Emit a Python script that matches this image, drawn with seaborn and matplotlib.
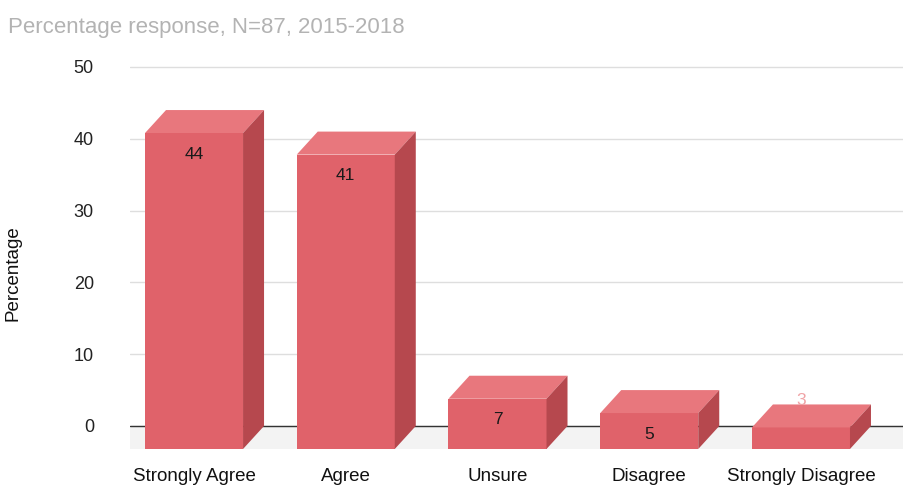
import matplotlib
matplotlib.use("Agg")
import matplotlib.pyplot as plt
from matplotlib.patches import Polygon
import seaborn as sns
import pandas as pd

categories = ["Strongly Agree", "Agree", "Unsure", "Disagree", "Strongly Disagree"]
values = [44, 41, 7, 5, 3]
yticks = [0, 10, 20, 30, 40, 50]
title = "Percentage response, N=87, 2015-2018"

sns.set_theme(style="white")
plt.rcParams['font.family'] = ['Liberation Sans', 'DejaVu Sans']

front_c = "#e0626a"
top_c = "#e8777d"
side_c = "#b6484e"

W, H = 904, 488
fig = plt.figure(figsize=(W / 100, H / 100), dpi=100)
ax_left, ax_right, ax_bot, ax_top = 130, 904, 455, 60
ax = fig.add_axes([ax_left / W, (H - ax_bot) / H, (ax_right - ax_left) / W, (ax_bot - ax_top) / H])

df = pd.DataFrame({"Response": categories, "Percentage": values})
sns.barplot(data=df, x="Response", y="Percentage", color=front_c, saturation=1,
            width=0.646, ax=ax, zorder=3, linewidth=0)

xlim = (-0.422, 4.679)
ylim = (-4.04, 50.97)
ax.set_xlim(*xlim)
ax.set_ylim(*ylim)

pxx = (ax_right - ax_left) / (xlim[1] - xlim[0])
pxy = (ax_bot - ax_top) / (ylim[1] - ylim[0])
dxd = 21 / pxx
dyd = 23 / pxy

# floor shading
ax.add_patch(Polygon([(xlim[0], -dyd), (xlim[1], -dyd), (xlim[1], 0), (xlim[0], 0)],
                     closed=True, facecolor="#f3f3f3", edgecolor="none", zorder=0.5))

for p in list(ax.patches):
    if not hasattr(p, "get_width") or p.get_height() <= 0:
        continue
    x0 = p.get_x(); w = p.get_width(); h = p.get_height()
    x1 = x0 + w
    p.set_y(-dyd)
    p.set_clip_on(False)
    top = Polygon([(x0, h - dyd), (x0 + dxd, h), (x1 + dxd, h), (x1, h - dyd)],
                  closed=True, facecolor=top_c, edgecolor="none", zorder=3, clip_on=False)
    side = Polygon([(x1, -dyd), (x1 + dxd, 0), (x1 + dxd, h), (x1, h - dyd)],
                   closed=True, facecolor=side_c, edgecolor="none", zorder=3, clip_on=False)
    ax.add_patch(top)
    ax.add_patch(side)

# value labels
for i, v in enumerate(values):
    if v >= 5:
        ax.annotate(str(v), (i, v - dyd), xytext=(0, -21), textcoords="offset pixels",
                    ha="center", va="center", fontsize=12.5, color="#1a1a1a", zorder=5)
    else:
        ax.annotate(str(v), (i, v - dyd), xytext=(0, 27), textcoords="offset pixels",
                    ha="center", va="center", fontsize=12.5, color="#f0a3a6", zorder=5)

ax.set_yticks(yticks)
ax.yaxis.grid(True, color="#dedede", linewidth=1)
ax.set_axisbelow(True)
ax.axhline(0, color="#333333", linewidth=1, zorder=1)
for s in ax.spines.values():
    s.set_visible(False)

ax.tick_params(axis="y", length=0, pad=26, labelsize=13, labelcolor="#222222")
ax.tick_params(axis="x", length=0, pad=9.5, labelsize=13.5, labelcolor="#111111")
ax.set_xlabel("")
ax.set_ylabel("Percentage", fontsize=13.5, color="#111111")
ax.yaxis.set_label_coords((22 - ax_left) / (ax_right - ax_left), (ax_bot - 273) / (ax_bot - ax_top))

fig.text(8 / W, 1 - 27 / H, title, color="#b3b3b3", fontsize=16, ha="left", va="center")

fig.savefig("out.png", dpi=100)
